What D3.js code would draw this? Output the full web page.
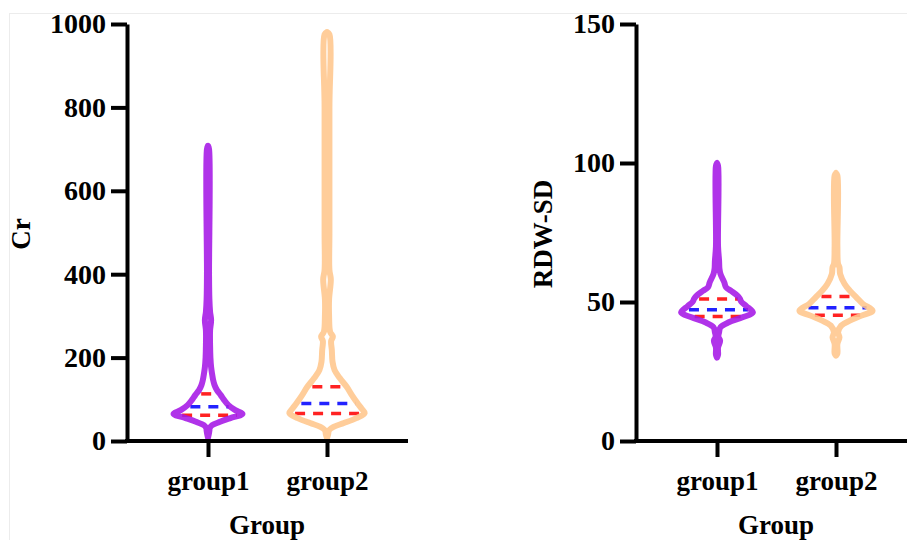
<!DOCTYPE html>
<html>
<head>
<meta charset="utf-8">
<script src="https://cdn.jsdelivr.net/npm/d3@7"></script>
<style>
  body { margin: 0; background: #fff; }
  svg { display: block; }
  text { font-family: "Liberation Serif", "Times New Roman", serif; font-weight: bold; }
</style>
</head>
<body>
<svg id="svg" width="907" height="540"></svg>
<script>
const groups = ["group1", "group2"];

// violin outlines: [value, relative density]
const crGroup1 = [[8,0],[15,2],[25,4],[31,5],[38,12],[46,35],[55,65],[65,100],[74,79],[86,59],[98,47],[110,37],[122,26],[134,19],[146,15],[160,12],[177,9],[200,7],[230,6],[265,6],[290,9],[310,6],[340,4],[400,3],[700,3],[708,0]];
const crGroup2 = [[7,0],[15,3],[26,6],[34,19],[43,49],[55,85],[67,109],[78,100],[91,88],[110,72],[130,57],[151,37],[170,22],[190,16],[218,14],[240,12],[250,17],[262,9],[300,6],[340,6],[388,11],[410,7],[500,7],[800,7],[975,7],[981,0]];
const rdwGroup1 = [[30,0],[31,3],[33.6,3],[36.1,9],[37.5,4],[39.1,6],[40.9,10],[42.7,34],[44.5,74],[46.2,104],[48.5,85],[50,71],[51.2,66],[52.3,59],[54,41],[55.3,26],[57.1,21],[60.1,10],[62,7],[64.9,6],[70,3],[99,3],[100,0]];
const rdwGroup2 = [[30.7,0],[31.5,4],[34.9,4],[37.3,10],[39.1,6],[41.5,15],[43.3,40],[45.1,74],[46.9,106],[49.3,78],[51.7,59],[54.1,40],[56.5,25],[60.1,12],[62.5,10],[63.7,6],[70,4],[95.5,4],[96.4,0]];

// quartiles: [q1, median, q3]
const crQuartiles = [[62, 82, 113], [66, 90, 130]];
const rdwQuartiles = [[44.8, 47.2, 51.1], [45.2, 47.9, 52.0]];

const crTicks = [0, 200, 400, 600, 800, 1000];
const rdwTicks = [0, 50, 100, 150];

const colors = ["#A517E6", "#FFC68C"];

const svg = d3.select("#svg");

// faint frame
svg.append("rect")
    .attr("x", 9.5).attr("y", 13.5)
    .attr("width", 1000).attr("height", 1000)
    .attr("fill", "none")
    .attr("stroke", "#ececec");

const height = 441 - 24,
    axisLen = 281;

const widthScale = d3.scaleLinear().domain([0, 100]).range([0, 34.5]);

function panel(left, yDomain, ticks, profiles, quartiles, yTitle, titleX) {
    const g = svg.append("g").attr("transform", "translate(" + left + ",24)");

    const y = d3.scaleLinear().domain(yDomain).range([height, 0]);
    const x = d3.scalePoint().domain(groups).range([81, 200]);

    // violins
    profiles.forEach((prof, i) => {
        const cx = x(groups[i]);
        const area = d3.area()
            .y(d => y(d[0]))
            .x0(d => cx - widthScale(d[1]))
            .x1(d => cx + widthScale(d[1]))
            .curve(d3.curveCatmullRom);

        g.append("path")
            .attr("d", area(prof))
            .attr("fill", "#fff");

        const vals = prof.map(d => d[0]);
        const halfW = v => {
            const j = d3.bisectLeft(vals, v);
            const a = prof[j - 1], b = prof[j];
            const t = (v - a[0]) / (b[0] - a[0]);
            return widthScale(a[1] + t * (b[1] - a[1]));
        };

        quartiles[i].forEach((q, k) => {
            const w = halfW(q) - 2;
            g.append("line")
                .attr("x1", cx - w).attr("x2", cx + w)
                .attr("y1", y(q)).attr("y2", y(q))
                .attr("stroke", k === 1 ? "#2222ff" : "#ff2222")
                .attr("stroke-width", 3.5)
                .attr("stroke-dasharray", "10,8")
                .attr("stroke-dashoffset", -3);
        });

        g.append("path")
            .attr("d", area(prof))
            .attr("fill", "none")
            .attr("stroke", colors[i])
            .attr("stroke-opacity", 0.88)
            .attr("stroke-width", 6)
            .attr("stroke-linejoin", "round");
    });

    // y axis
    const yAxis = g.append("g")
        .call(d3.axisLeft(y).tickValues(ticks).tickFormat(d3.format("d"))
            .tickSize(16).tickSizeOuter(0).tickPadding(5));
    yAxis.selectAll("path, line").attr("stroke", "#000").attr("stroke-width", 4);
    yAxis.selectAll("text").attr("font-size", 28).attr("fill", "#000")
        .attr("font-family", "'Liberation Serif', 'Times New Roman', serif");

    // x axis
    const xAxis = g.append("g")
        .attr("transform", "translate(0," + height + ")")
        .call(d3.axisBottom(x).tickSize(16).tickSizeOuter(0).tickPadding(14));
    xAxis.select(".domain").remove();
    xAxis.append("line")
        .attr("x1", -2).attr("x2", axisLen)
        .attr("stroke", "#000").attr("stroke-width", 4);
    xAxis.selectAll(".tick line").attr("stroke", "#000").attr("stroke-width", 4);
    xAxis.selectAll("text").attr("font-size", 27).attr("fill", "#000")
        .attr("font-family", "'Liberation Serif', 'Times New Roman', serif");

    g.append("text")
        .attr("x", 140).attr("y", 510)
        .attr("text-anchor", "middle")
        .attr("font-size", 27)
        .text("Group");

    g.append("text")
        .attr("transform", "translate(" + titleX + ",210) rotate(-90)")
        .attr("text-anchor", "middle")
        .attr("font-size", 27)
        .text(yTitle);
}

panel(127, [0, 1000], crTicks, [crGroup1, crGroup2], crQuartiles, "Cr", -97);
panel(636, [0, 150], rdwTicks, [rdwGroup1, rdwGroup2], rdwQuartiles, "RDW-SD", -84);
</script>
</body>
</html>
